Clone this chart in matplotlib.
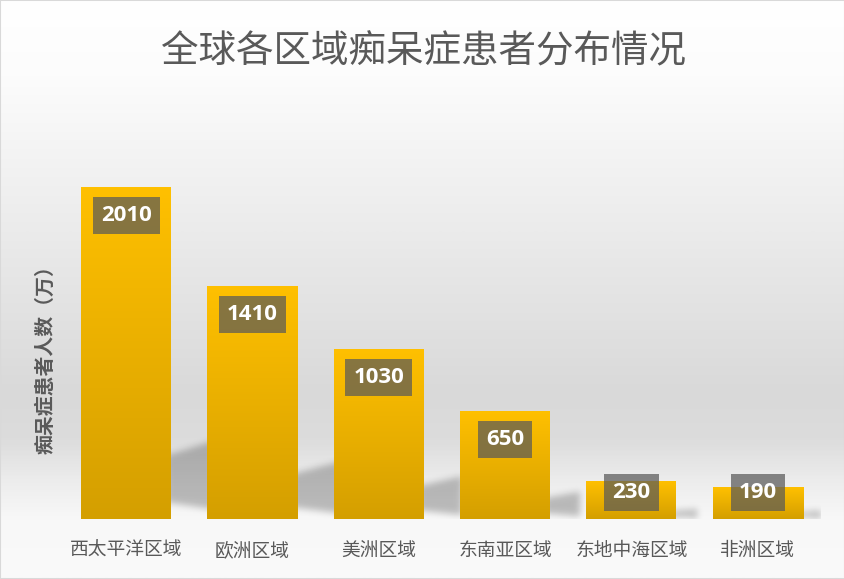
import numpy as np
import matplotlib
matplotlib.use("Agg")
import matplotlib.pyplot as plt
from matplotlib.colors import LinearSegmentedColormap
from matplotlib.path import Path
from matplotlib.patches import Rectangle

plt.rcParams['font.family'] = ['Noto Sans CJK SC', 'DejaVu Sans']

# ---- data ----
categories = ['西太平洋区域', '欧洲区域', '美洲区域', '东南亚区域', '东地中海区域', '非洲区域']
values = [2010, 1410, 1030, 650, 230, 190]
title = '全球各区域痴呆症患者分布情况'
ylabel = '痴呆症患者人数（万）'

W, H = 845, 579
fig = plt.figure(figsize=(W / 100, H / 100), dpi=100)

# ---- background gradient ----
bg = fig.add_axes([0, 0, 1, 1], zorder=-10)
stops = [(0.0, '#FFFFFF'), (0.13, '#FCFCFC'), (0.40, '#EBEBEB'), (0.68, '#D9D9D9'),
         (0.76, '#DCDCDC'), (0.83, '#ECECEC'), (0.90, '#F8F8F8'), (1.0, '#FAFAFA')]
bgcmap = LinearSegmentedColormap.from_list('bg', stops)
grad = np.linspace(0, 1, 400).reshape(-1, 1)
bg.imshow(grad, cmap=bgcmap, aspect='auto', extent=[0, 1, 0, 1], origin='upper')
bg.set_xlim(0, 1)
bg.set_ylim(0, 1)
bg.axis('off')

# ---- main axes ----
ax_l, ax_b, ax_w, ax_h = 63, 60, 758, 363  # pixels
ax = fig.add_axes([ax_l / W, ax_b / H, ax_w / W, ax_h / H])
ax.patch.set_alpha(0)
ymax = 2200
n = len(values)
ax.set_xlim(-0.5, n - 0.5)
ax.set_ylim(0, ymax)
for s in ax.spines.values():
    s.set_visible(False)
ax.set_yticks([])
ax.set_xticks(range(n))
ax.set_xticklabels(categories, fontsize=13.5, color='#595959')
ax.tick_params(axis='x', length=0, pad=15)

px_x = ax_w / n          # pixels per category unit
px_y = ax_h / ymax       # pixels per data unit
bw = 90 / px_x

# ---- soft shadows (raster, blurred) ----
gx = np.linspace(-0.5, n - 0.5, ax_w)
gy = np.linspace(0, ymax, ax_h)
GX, GY = np.meshgrid(gx, gy)
pts = np.column_stack([GX.ravel(), GY.ravel()])
mask = np.zeros(GX.size)
for i, v in enumerate(values):
    hp = v * px_y
    x1 = i + bw / 2
    L = (0.13 * hp + 16) / px_x
    poly = [(x1 - 0.05, 0.05 * v), (x1 - 0.05, 0.19 * v), (x1 + L, 0.25 * v),
            (x1 + L, 0.02 * v), (x1 - 0.05, 0.05 * v)]
    inside = Path(poly).contains_points(pts)
    mask[inside] = 1.0
mask = mask.reshape(GX.shape)
k = np.exp(-0.5 * (np.arange(-9, 10) / 3.5) ** 2)
k /= k.sum()
mask = np.apply_along_axis(lambda r: np.convolve(r, k, mode='same'), 1, mask)
mask = np.apply_along_axis(lambda c: np.convolve(c, k, mode='same'), 0, mask)
rgba = np.zeros(mask.shape + (4,))
rgba[..., 3] = mask * 0.24
ax.imshow(rgba, extent=[-0.5, n - 0.5, 0, ymax], origin='lower', aspect='auto', zorder=1)

# ---- gradient bars ----
barcmap = LinearSegmentedColormap.from_list('bar', ['#D49F00', '#FFC000'])
bgrad = np.linspace(0, 1, 256).reshape(-1, 1)
for i, v in enumerate(values):
    ax.imshow(bgrad, cmap=barcmap, origin='lower', aspect='auto',
              extent=[i - bw / 2, i + bw / 2, 0, v], zorder=2)

ax.set_xlim(-0.5, n - 0.5)
ax.set_ylim(0, ymax)

# ---- data labels ----
off = 28 / px_y
for i, v in enumerate(values):
    y = max(v - off, 27 / px_y)
    ax.text(i, y, str(v), ha='center', va='center', color='white', fontsize=16,
            fontweight='bold', family=['Open Sans', 'DejaVu Sans'], zorder=4,
            bbox=dict(boxstyle='square,pad=0.36', fc=(0.35, 0.35, 0.35, 0.72), ec='none'))

# ---- texts ----
fig.text(423.5 / W, 1 - 52 / H, title, ha='center', va='center', fontsize=27, color='#595959')
fig.text(45 / W, 1 - 355 / H, ylabel, rotation=90, ha='center', va='center',
         fontsize=14.3, fontweight='bold', color='#595959')

fig.patches.append(Rectangle((0, 0), 1, 1, transform=fig.transFigure, fill=False,
                             ec='#D9D9D9', lw=1.5, zorder=20))

fig.savefig('out.png', dpi=100)
